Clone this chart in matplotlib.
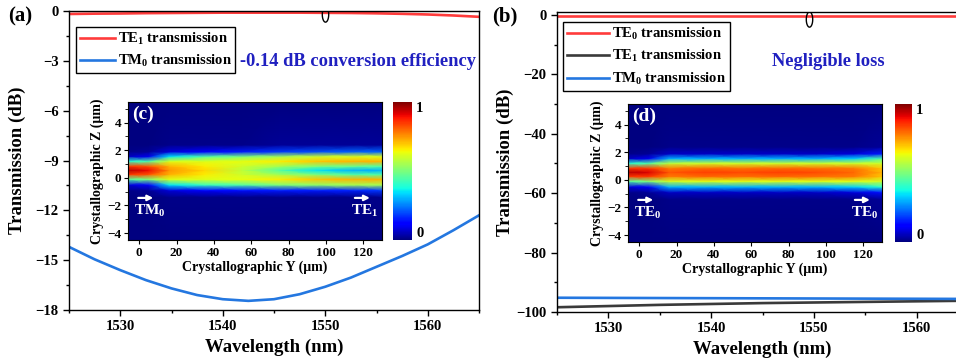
import matplotlib
matplotlib.use("Agg")
import matplotlib.pyplot as plt
import numpy as np
from matplotlib.path import Path
from matplotlib.ticker import MultipleLocator

# ---- data ----
wl_a = [1525, 1527.5, 1530, 1532.5, 1535, 1537.5, 1540, 1542.5, 1545,
        1547.5, 1550, 1552.5, 1555, 1557.5, 1560, 1562.5, 1565]
te1_a = [-0.18, -0.16, -0.15, -0.13, -0.12, -0.11, -0.10, -0.10, -0.10,
         -0.10, -0.11, -0.12, -0.14, -0.17, -0.21, -0.27, -0.35]
tm0_a = [-14.2, -14.95, -15.6, -16.2, -16.7, -17.1, -17.35, -17.45, -17.35,
         -17.05, -16.6, -16.05, -15.4, -14.75, -14.05, -13.2, -12.3]

wl_b = [1525, 1535, 1545, 1555, 1565]
te0_b = [-0.3, -0.3, -0.3, -0.3, -0.3]
te1_b = [-98.4, -97.6, -97.0, -96.6, -96.2]
tm0_b = [-95.2, -95.3, -95.4, -95.5, -95.6]

# inset field maps: columns along crystallographic Y, values along Z
y_grid = [-6, 5, 16, 35, 55, 75, 95, 115, 130]
z_grid = [-4.5, -1.4, -0.9, -0.5, -0.1, 0.25, 0.55, 0.85, 1.2, 1.55, 1.9, 2.4, 5.5]
field_c = [
    [0, 0, 0.01, 0.08, 0.45, 0.85, 0.95, 0.85, 0.40, 0.06, 0.01, 0, 0],
    [0, 0, 0.02, 0.12, 0.50, 0.82, 0.90, 0.82, 0.45, 0.10, 0.02, 0, 0],
    [0, 0.01, 0.08, 0.35, 0.62, 0.72, 0.75, 0.72, 0.62, 0.35, 0.08, 0.01, 0],
    [0, 0.01, 0.12, 0.42, 0.62, 0.66, 0.68, 0.66, 0.62, 0.45, 0.12, 0.01, 0],
    [0, 0.01, 0.14, 0.45, 0.63, 0.60, 0.58, 0.60, 0.63, 0.50, 0.15, 0.01, 0],
    [0, 0.01, 0.15, 0.50, 0.66, 0.55, 0.45, 0.55, 0.66, 0.55, 0.18, 0.02, 0],
    [0, 0.01, 0.15, 0.52, 0.70, 0.50, 0.35, 0.50, 0.70, 0.60, 0.20, 0.02, 0],
    [0, 0.01, 0.16, 0.55, 0.72, 0.45, 0.30, 0.48, 0.72, 0.62, 0.22, 0.02, 0],
    [0, 0.01, 0.18, 0.55, 0.72, 0.45, 0.30, 0.45, 0.72, 0.62, 0.22, 0.02, 0],
]
field_d = [
    [0, 0, 0.01, 0.08, 0.45, 0.85, 0.95, 0.85, 0.40, 0.06, 0.01, 0, 0],
    [0, 0, 0.02, 0.12, 0.50, 0.85, 0.92, 0.85, 0.45, 0.10, 0.02, 0, 0],
    [0, 0.01, 0.06, 0.30, 0.60, 0.78, 0.82, 0.78, 0.58, 0.30, 0.06, 0.01, 0],
    [0, 0.01, 0.06, 0.30, 0.62, 0.80, 0.84, 0.80, 0.60, 0.30, 0.06, 0.01, 0],
    [0, 0.01, 0.06, 0.30, 0.62, 0.79, 0.83, 0.79, 0.60, 0.30, 0.06, 0.01, 0],
    [0, 0.01, 0.06, 0.30, 0.62, 0.80, 0.84, 0.80, 0.60, 0.30, 0.06, 0.01, 0],
    [0, 0.01, 0.06, 0.30, 0.62, 0.79, 0.83, 0.79, 0.60, 0.30, 0.06, 0.01, 0],
    [0, 0.01, 0.08, 0.33, 0.62, 0.78, 0.80, 0.78, 0.60, 0.33, 0.08, 0.01, 0],
    [0, 0.02, 0.14, 0.40, 0.60, 0.70, 0.72, 0.70, 0.60, 0.45, 0.15, 0.02, 0],
]

RED = "#ff3b3b"
BLUE = "#2477e0"
GRAY = "#3a3a3a"
TXTBLUE = "#2020c0"

plt.rcParams["font.family"] = "Liberation Serif"
plt.rcParams["font.weight"] = "bold"
plt.rcParams["axes.labelweight"] = "bold"
plt.rcParams["mathtext.fontset"] = "custom"
plt.rcParams["mathtext.rm"] = "Liberation Serif:bold"
plt.rcParams["mathtext.it"] = "Liberation Serif:bold"
plt.rcParams["mathtext.bf"] = "Liberation Serif:bold"

W, H = 956, 362
fig = plt.figure(figsize=(W / 100, H / 100), dpi=100)


def px_axes(x0, y0, x1, y1):
    # rectangle given in picture pixels (top-left origin)
    return fig.add_axes([x0 / W, 1 - y1 / H, (x1 - x0) / W, (y1 - y0) / H])


# small oval marker sitting on the top curves
t = np.linspace(0, 2 * np.pi, 60)
oval = Path(np.column_stack([0.42 * np.cos(t), np.sin(t)]))


def style_main(ax):
    ax.tick_params(which="major", direction="out", length=4, width=1, labelsize=10.5)
    ax.tick_params(which="minor", direction="out", length=2.5, width=1)
    for s in ax.spines.values():
        s.set_linewidth(1)
    ax.set_xlim(1525, 1565)
    ax.set_xticks([1530, 1540, 1550, 1560])
    ax.xaxis.set_minor_locator(MultipleLocator(5))
    ax.set_xlabel("Wavelength (nm)", fontsize=13.5, labelpad=4)
    ax.set_ylabel("Transmission (dB)", fontsize=13.5)


def inset(ax, cax, field, title, lab_in, lab_out):
    mesh = ax.pcolormesh(y_grid, z_grid, np.array(field).T, shading="gouraud",
                         cmap="jet", vmin=0, vmax=1)
    ax.set_xlim(-6, 130)
    ax.set_ylim(-4.5, 5.5)
    ax.set_xticks([0, 20, 40, 60, 80, 100, 120])
    ax.set_yticks([-4, -2, 0, 2, 4])
    ax.yaxis.set_minor_locator(MultipleLocator(1))
    ax.tick_params(which="major", direction="out", length=3, labelsize=9.5, pad=2)
    ax.tick_params(which="minor", direction="out", length=2)
    ax.set_xlabel("Crystallographic Y (\u03bcm)", fontsize=10, labelpad=1)
    ax.set_ylabel("Crystallographic Z (\u03bcm)", fontsize=10, labelpad=2)
    ax.text(0.015, 0.97, title, transform=ax.transAxes, color="white",
            fontsize=14, va="top", ha="left")
    ax.annotate("", xy=(9, -1.45), xytext=(-2, -1.45),
                arrowprops=dict(arrowstyle="-|>", color="white", lw=1.6,
                                mutation_scale=8))
    ax.annotate("", xy=(125, -1.45), xytext=(114, -1.45),
                arrowprops=dict(arrowstyle="-|>", color="white", lw=1.6,
                                mutation_scale=8))
    ax.text(-3, -2.4, lab_in, color="white", fontsize=11, va="center", ha="left")
    ax.text(128, -2.4, lab_out, color="white", fontsize=11, va="center", ha="right")
    cb = fig.colorbar(mesh, cax=cax, ticks=[0, 1])
    cb.outline.set_visible(False)
    cax.tick_params(length=0, labelsize=10.5, pad=3)
    cax.set_yticklabels(["0", "1"])
    labs = cax.get_yticklabels()
    labs[0].set_va("bottom")
    labs[1].set_va("top")


# ---------------- panel (a) ----------------
ax1 = px_axes(69, 11, 479, 310)
ax1.plot(wl_a, te1_a, color=RED, lw=1.9, label="TE$_1$ transmission")
ax1.plot(wl_a, tm0_a, color=BLUE, lw=1.9, label="TM$_0$ transmission")
ax1.plot([1550], [-0.2], marker=oval, ms=11, mfc="none", mec="black", mew=1)
ax1.set_ylim(-18, 0)
ax1.set_yticks([0, -3, -6, -9, -12, -15, -18])
ax1.yaxis.set_minor_locator(MultipleLocator(1.5))
style_main(ax1)
ax1.yaxis.set_label_coords(-0.105, 0.5)
leg = ax1.legend(loc="upper left", bbox_to_anchor=(76 / W, 1 - 27 / H),
                 bbox_transform=fig.transFigure, fontsize=10.5, frameon=True,
                 fancybox=False, edgecolor="black", framealpha=1,
                 handlelength=2.4, handletextpad=0.2, borderpad=0.25,
                 labelspacing=0.45, borderaxespad=0)
leg.get_frame().set_linewidth(1)
fig.text(240 / W, 1 - 62 / H, "-0.14 dB conversion efficiency", color=TXTBLUE,
         fontsize=13.3, va="center", ha="left")
fig.text(8 / W, 1 - 16 / H, "(a)", fontsize=15, va="center", ha="left")

axc = px_axes(128, 102, 382, 240)
caxc = px_axes(393, 102, 412, 240)
inset(axc, caxc, field_c, "(c)", "TM$_0$", "TE$_1$")

# ---------------- panel (b) ----------------
ax2 = px_axes(557, 12, 968, 312)
ax2.plot(wl_b, te0_b, color=RED, lw=1.9, label="TE$_0$ transmission")
ax2.plot(wl_b, te1_b, color=GRAY, lw=1.9, label="TE$_1$ transmission")
ax2.plot(wl_b, tm0_b, color=BLUE, lw=1.9, label="TM$_0$ transmission")
ax2.plot([1549.5], [-1.2], marker=oval, ms=11, mfc="none", mec="black", mew=1)
ax2.set_ylim(-100, 1)
ax2.set_yticks([0, -20, -40, -60, -80, -100])
ax2.yaxis.set_minor_locator(MultipleLocator(10))
style_main(ax2)
ax2.yaxis.set_label_coords(-0.105, 0.5)
leg2 = ax2.legend(loc="upper left", bbox_to_anchor=(563 / W, 1 - 22 / H),
                  bbox_transform=fig.transFigure, fontsize=10.5, frameon=True,
                  fancybox=False, edgecolor="black", framealpha=1,
                  handlelength=2.9, handletextpad=0.2, borderpad=0.25,
                  labelspacing=0.45, borderaxespad=0)
leg2.get_frame().set_linewidth(1)
fig.text(772 / W, 1 - 61 / H, "Negligible loss", color=TXTBLUE,
         fontsize=13.3, va="center", ha="left")
fig.text(492 / W, 1 - 16 / H, "(b)", fontsize=15, va="center", ha="left")

axd = px_axes(628, 104, 882, 242)
caxd = px_axes(895, 104, 912, 242)
inset(axd, caxd, field_d, "(d)", "TE$_0$", "TE$_0$")

fig.savefig("out.png", dpi=100)
